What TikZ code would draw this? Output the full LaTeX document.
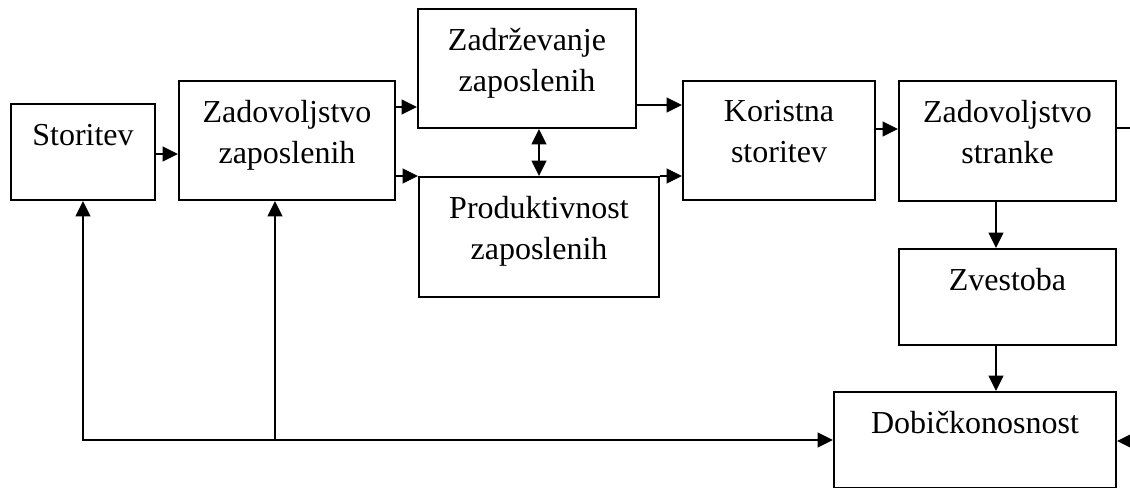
\documentclass[tikz,border=0pt]{standalone}
\usepackage{fontspec}
\setmainfont{Liberation Serif}
\usetikzlibrary{arrows.meta}
\begin{document}
\begin{tikzpicture}[
  x=0.75pt, y=-0.75pt,
  box/.style={draw, line width=1.5pt, inner sep=0pt, minimum width=#1},
  arr/.style={line width=1.5pt, -{Triangle[length=11.5pt,width=11pt]}},
  darr/.style={line width=1.5pt, {Triangle[length=11.5pt,width=11pt]}-{Triangle[length=11.5pt,width=11pt]}},
  ln/.style={line width=1.5pt},
  txt/.style={anchor=north, inner sep=0pt, align=center,
    font=\fontsize{24pt}{30.75pt}\selectfont}
]
\useasboundingbox (0,0) rectangle (1130,488);

% boxes
\node[box=108pt, minimum height=72pt]   (stor) at (83,152)     {};
\node[box=162pt, minimum height=89.25pt](zzap) at (287,140.5)  {};
\node[box=163.5pt, minimum height=89.25pt](zadr) at (527,68.5) {};
\node[box=180pt, minimum height=90pt]   (prod) at (539,237)    {};
\node[box=144pt, minimum height=89.25pt](kor)  at (779,140.5)  {};
\node[box=162.75pt, minimum height=90pt](zstr) at (1007.5,141) {};
\node[box=162.75pt, minimum height=72pt](zve)  at (1007.5,297) {};
\node[box=211.5pt, minimum height=72pt] (dob)  at (975,440)    {};

% labels
\node[txt] (tstor) at ([yshift=-16pt]stor.north) {Storitev};
\node[txt] (tzzap) at ([yshift=-15pt]zzap.north) {Zadovoljstvo\\zaposlenih};
\node[txt] (tzadr) at ([yshift=-15pt]zadr.north) {Zadrževanje\\zaposlenih};
\node[txt] (tprod) at ([yshift=-15pt]prod.north) {Produktivnost\\zaposlenih};
\node[txt] (tkor)  at ([yshift=-15pt]kor.north)  {Koristna\\storitev};
\node[txt] (tzstr) at ([yshift=-15pt]zstr.north) {Zadovoljstvo\\stranke};
\node[txt] (tzve)  at ([yshift=-15pt]zve.north)  {Zvestoba};
\node[txt] (tdob)  at ([yshift=-15pt]dob.north)  {Dobičkonosnost};

% forward connectors
\draw[arr] ([yshift=-1.5pt]stor.east) -- ([yshift=-1.5pt]stor.east -| zzap.west);
\draw[arr] (zzap.east |- 0,107) -- (zadr.west |- 0,107);
\draw[arr] (prod.north west -| zzap.east) -- (prod.north west);
\draw[darr] (prod.north) -- (prod.north |- zadr.south);
\draw[arr] (zadr.east |- 0,105) -- (kor.west |- 0,105);
\draw[arr] (prod.north east) -- (prod.north east -| kor.west);
\draw[arr] (kor.east |- 0,129) -- (zstr.west |- 0,129);
\draw[arr] (zstr.south -| 996,0) -- (zve.north -| 996,0);
\draw[arr] (zve.south -| 996,0) -- (dob.north -| 996,0);

% lines leaving and entering at the right edge
\coordinate (outR) at (1130,128);
\draw[ln] (zstr.east |- outR) -- (outR);
\coordinate (inR) at (1130,441);
\draw[arr] (inR) -- (dob.east |- inR);

% feedback loop along the bottom
\coordinate (fbL) at (stor.south |- dob.west);
\coordinate (fbM) at (275,440);
\draw[arr] ([xshift=-0.75pt]fbL) -- (dob.west);
\draw[arr] (fbL) -- (stor.south);
\draw[arr] (fbM) -- (fbM |- zzap.south);
\end{tikzpicture}
\end{document}
